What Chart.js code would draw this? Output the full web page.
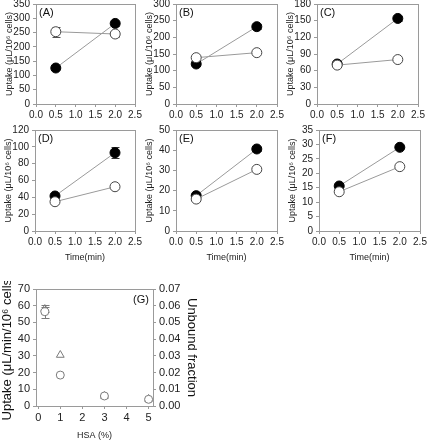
<!DOCTYPE html>
<html><head><meta charset="utf-8">
<script src="https://cdn.jsdelivr.net/npm/chart.js@4.4.1/dist/chart.umd.min.js"></script>
<style>
html,body{margin:0;padding:0;background:#fff;width:427px;height:440px;overflow:hidden;position:relative}
canvas{position:absolute}
</style></head><body>
<script>
// ---- data ----
const timePoints = [0.5, 2.0];
const timeTicks = [0, 0.5, 1.0, 1.5, 2.0, 2.5];
const panelNames = ['(A)', '(B)', '(C)', '(D)', '(E)', '(F)'];
const yMaxes = [350, 300, 180, 120, 50, 35];
const ySteps = [50, 50, 30, 20, 10, 5];

const filledA = [126, 282], filledErrA = [0, 8], openA = [253, 245], openErrA = [18, 11];
const filledB = [120, 232], filledErrB = [0, 7], openB = [139, 154], openErrB = [0, 0];
const filledC = [72, 154], filledErrC = [0, 4], openC = [70, 80], openErrC = [0, 0];
const filledD = [41.6, 93], filledErrD = [0, 6.5], openD = [34.8, 52.6], openErrD = [0, 0];
const filledE = [17.5, 40.6], filledErrE = [0, 1], openE = [15.8, 30.5], openErrE = [0, 1];
const filledF = [15.6, 29.0], filledErrF = [0, 0], openF = [13.6, 22.3], openErrF = [0, 0];

const hsaPercent = [0.3, 1, 3, 5];
const hsaTicks = [0, 1, 2, 3, 4, 5];
const hsaUptake = [56.4, 18.5, 6.0, 4.0];
const hsaUptakeErr = [3.8, 0, 0, 0];
const unboundFraction = [0.058, 0.0305, 0.006, 0.0042];
const unboundFractionErr = [0.0015, 0, 0, 0];

const FONT = 'Arial, "Liberation Sans", sans-serif';
const GRAY = '#9a9a9a';

// ---- plugins ----
const errorBars = {
  id: 'errorBars',
  beforeDatasetsDraw(chart) {
    const ctx = chart.ctx;
    chart.data.datasets.forEach((ds) => {
      if (!ds.errors) return;
      const xs = chart.scales.x, ys = chart.scales[ds.yAxisID || 'y'];
      ctx.save();
      ctx.strokeStyle = ds.errorColor || '#555';
      ctx.lineWidth = 1;
      ds.data.forEach((p, i) => {
        const e = ds.errors[i];
        if (!e) return;
        const px = Math.round(xs.getPixelForValue(p.x)) + 0.5;
        const y1 = Math.round(ys.getPixelForValue(p.y + e)) + 0.5, y2 = Math.round(ys.getPixelForValue(p.y - e)) + 0.5;
        const cap = ds.capWidth || 4;
        ctx.beginPath();
        ctx.moveTo(px, y1); ctx.lineTo(px, y2);
        ctx.moveTo(px - cap, y1); ctx.lineTo(px + cap, y1);
        ctx.moveTo(px - cap, y2); ctx.lineTo(px + cap, y2);
        ctx.stroke();
      });
      ctx.restore();
    });
  }
};
const frameBox = {
  id: 'frameBox',
  beforeDatasetsDraw(chart) {
    const a = chart.chartArea, ctx = chart.ctx;
    ctx.save();
    ctx.strokeStyle = GRAY; ctx.lineWidth = 1;
    ctx.strokeRect(Math.round(a.left) + 0.5, Math.round(a.top) + 0.5, Math.round(a.right - a.left), Math.round(a.bottom - a.top));
    ctx.restore();
  }
};
const panelLabel = {
  id: 'panelLabel',
  afterDraw(chart, args, opts) {
    if (!opts.text) return;
    const a = chart.chartArea, ctx = chart.ctx;
    ctx.save();
    ctx.font = '11px ' + FONT;
    ctx.fillStyle = '#111';
    ctx.textBaseline = 'middle';
    if (opts.align === 'right') { ctx.textAlign = 'right'; ctx.fillText(opts.text, a.right - 4, a.top + 11); }
    else { ctx.textAlign = 'left'; ctx.fillText(opts.text, a.left + 3, a.top + 9); }
    ctx.restore();
  }
};

function pts(xs, ys) { return xs.map((x, i) => ({ x: x, y: ys[i] })); }

function makeCanvas(cx, cy, cw, ch) {
  const c = document.createElement('canvas');
  c.width = cw; c.height = ch;
  c.style.left = cx + 'px'; c.style.top = cy + 'px';
  c.style.width = cw + 'px'; c.style.height = ch + 'px';
  document.body.appendChild(c);
  return c;
}

function fixX(h) { return s => { s.height = h; s.paddingLeft = 0; s.paddingRight = 0; }; }
function fixY(w) { return s => { s.width = w; s.paddingTop = 0; s.paddingBottom = 0; }; }
function tickFont(size) { return { family: FONT, size: size }; }

const PAD_T = 8, PAD_R = 8, WY = 36;

function timePanel(idx, filled, filledErr, open, openErr, t, hx, showXTitle) {
  const cx = t.L - WY, cy = t.T - PAD_T;
  const cw = (t.R - cx) + PAD_R, ch = (t.B - cy) + hx;
  const canvas = makeCanvas(cx, cy, cw, ch);
  return new Chart(canvas, {
    type: 'scatter',
    data: {
      datasets: [
        { data: pts(timePoints, open), errors: openErr, showLine: true, borderColor: GRAY, borderWidth: 1,
          pointRadius: 5, pointBackgroundColor: '#fff', pointBorderColor: '#444', pointBorderWidth: 1, errorColor: '#555' },
        { data: pts(timePoints, filled), errors: filledErr, showLine: true, borderColor: GRAY, borderWidth: 1,
          pointRadius: 5, pointBackgroundColor: '#000', pointBorderColor: '#000', pointBorderWidth: 1, errorColor: '#333' }
      ]
    },
    options: {
      responsive: false, animation: false, devicePixelRatio: 1,
      layout: { padding: { left: 0, top: PAD_T, right: PAD_R, bottom: 0 } },
      plugins: { legend: { display: false }, tooltip: { enabled: false }, panelLabel: { text: panelNames[idx] } },
      scales: {
        x: {
          type: 'linear', min: 0, max: 2.5,
          afterBuildTicks: s => { s.ticks = timeTicks.map(v => ({ value: v })); },
          ticks: { autoSkip: false, font: tickFont(10), color: '#222', padding: 2, callback: v => Number(v).toFixed(1), maxRotation: 0 },
          grid: { drawOnChartArea: false, drawTicks: true, tickLength: 3, color: GRAY },
          border: { color: GRAY },
          title: { display: showXTitle, text: 'Time(min)', font: { family: FONT, size: 9 }, color: '#222', padding: 0 },
          afterFit: fixX(hx)
        },
        y: {
          type: 'linear', min: 0, max: yMaxes[idx],
          ticks: { autoSkip: false, stepSize: ySteps[idx], font: tickFont(10), color: '#222', padding: 3 },
          grid: { drawOnChartArea: false, drawTicks: true, tickLength: 3, color: GRAY },
          border: { color: GRAY },
          title: { display: true, text: 'Uptake (\u03bcL/10\u2076 cells)', font: { family: FONT, size: 9 }, color: '#222', padding: { top: 4, bottom: 0 } },
          afterFit: fixY(WY)
        }
      }
    },
    plugins: [frameBox, errorBars, panelLabel]
  });
}

timePanel(0, filledA, filledErrA, openA, openErrA, { L: 36, T: 4, R: 135, B: 104 }, 20, false);
timePanel(1, filledB, filledErrB, openB, openErrB, { L: 176, T: 4, R: 277, B: 104 }, 20, false);
timePanel(2, filledC, filledErrC, openC, openErrC, { L: 317, T: 4, R: 418, B: 104 }, 20, false);
timePanel(3, filledD, filledErrD, openD, openErrD, { L: 35, T: 130, R: 135, B: 231 }, 32, true);
timePanel(4, filledE, filledErrE, openE, openErrE, { L: 176, T: 130, R: 277, B: 231 }, 32, true);
timePanel(5, filledF, filledErrF, openF, openErrF, { L: 319, T: 130, R: 420, B: 231 }, 32, true);

// ---- panel G ----
(function () {
  const t = { L: 36, T: 289, R: 153, B: 406 };
  const wl = 38, wr = 48, hx = 35;
  const cx = t.L - wl, cy = t.T - PAD_T;
  const cw = (t.R + wr) - cx, ch = (t.B - cy) + hx;
  const canvas = makeCanvas(cx, cy, cw, ch);
  new Chart(canvas, {
    type: 'scatter',
    data: {
      datasets: [
        { data: pts(hsaPercent, hsaUptake), errors: hsaUptakeErr, yAxisID: 'y', pointStyle: 'circle', pointRadius: 4,
          pointBackgroundColor: '#fff', pointBorderColor: '#7a7a7a', pointBorderWidth: 1, errorColor: '#7a7a7a', capWidth: 4 },
        { data: pts(hsaPercent, unboundFraction), errors: unboundFractionErr, yAxisID: 'y2', pointStyle: 'triangle', pointRadius: 4.5,
          pointBackgroundColor: 'rgba(255,255,255,0)', pointBorderColor: '#7a7a7a', pointBorderWidth: 1, errorColor: '#7a7a7a', capWidth: 4 }
      ]
    },
    options: {
      responsive: false, animation: false, devicePixelRatio: 1,
      layout: { padding: { left: 0, top: PAD_T, right: 0, bottom: 0 } },
      plugins: { legend: { display: false }, tooltip: { enabled: false }, panelLabel: { text: '(G)', align: 'right' } },
      scales: {
        x: {
          type: 'linear', min: -0.1, max: 5.2,
          afterBuildTicks: s => { s.ticks = hsaTicks.map(v => ({ value: v })); },
          ticks: { autoSkip: false, font: tickFont(11), color: '#222', padding: 2, maxRotation: 0 },
          grid: { drawOnChartArea: false, drawTicks: true, tickLength: 3, color: GRAY },
          border: { color: GRAY },
          title: { display: true, text: 'HSA (%)', font: { family: FONT, size: 9 }, color: '#222', padding: 0 },
          afterFit: fixX(hx)
        },
        y: {
          type: 'linear', position: 'left', min: 0, max: 70,
          ticks: { autoSkip: false, stepSize: 10, font: tickFont(11), color: '#222', padding: 3 },
          grid: { drawOnChartArea: false, drawTicks: true, tickLength: 3, color: GRAY },
          border: { color: GRAY },
          title: { display: true, text: 'Uptake (\u03bcL/min/10\u2076 cells)', font: { family: FONT, size: 13 }, color: '#111', padding: { top: 2, bottom: 0 } },
          afterFit: fixY(wl)
        },
        y2: {
          type: 'linear', position: 'right', min: 0, max: 0.07,
          ticks: { autoSkip: false, stepSize: 0.01, font: tickFont(11), color: '#222', padding: 3, callback: v => Number(v).toFixed(2) },
          grid: { drawOnChartArea: false, drawTicks: true, tickLength: 3, color: GRAY },
          border: { color: GRAY },
          title: { display: true, text: 'Unbound fraction', font: { family: FONT, size: 13 }, color: '#111', padding: { top: 2, bottom: 0 } },
          afterFit: fixY(wr)
        }
      }
    },
    plugins: [frameBox, errorBars, panelLabel]
  });
})();
</script>
</body></html>
